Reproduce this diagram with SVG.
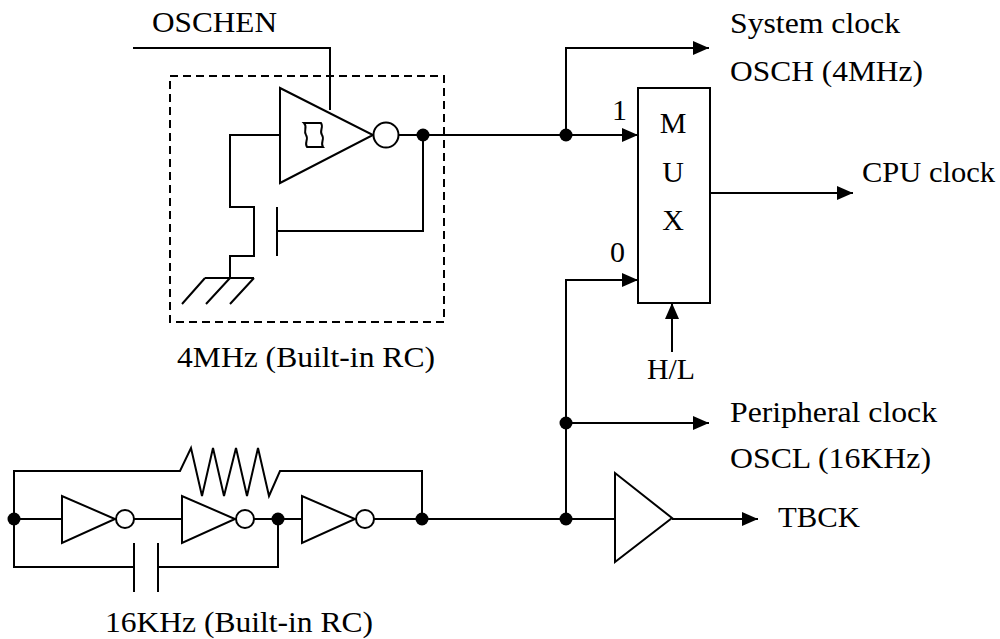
<svg xmlns="http://www.w3.org/2000/svg" width="1000" height="639" viewBox="0 0 1000 639">
<style>
.w{fill:none;stroke:#000;stroke-width:2}
.s{fill:#fff;stroke:#000;stroke-width:2}
.d{fill:#000;stroke:none}
.dash{fill:none;stroke:#000;stroke-width:2;stroke-dasharray:8,5}
</style>
<defs>
<marker id="arr" viewBox="0 0 16 14" refX="16" refY="7" markerWidth="16" markerHeight="14" markerUnits="userSpaceOnUse" orient="auto">
<path d="M0,0 L16,7 L0,14 Z" fill="#000"/>
</marker>
</defs>
<rect x="0" y="0" width="1000" height="639" fill="#fff"/>

<g id="connectors">
<path class="w" d="M133,48 H330 V110"/>
<path class="w" d="M398,135 H638" marker-end="url(#arr)"/>
<path class="w" d="M566,135 V48 H709" marker-end="url(#arr)"/>
<path class="w" d="M423,135 V231 H277"/>
<path class="w" d="M280,135 H230 V207 H254 V256 H230 V278"/>
<path class="w" d="M710,193 H853" marker-end="url(#arr)"/>
<path class="w" d="M672,352 V303" marker-end="url(#arr)"/>
<path class="w" d="M566,519 V280 H638" marker-end="url(#arr)"/>
<path class="w" d="M566,423 H709" marker-end="url(#arr)"/>
<path class="w" d="M14,519 H62 M134,519 H182 M254,519 H302 M374,519 H615"/>
<path class="w" d="M672,519 H758" marker-end="url(#arr)"/>
<path class="w" d="M14,519 V471 H180 L191,448 L202,496 L213,448 L224,496 L236,448 L247,496 L258,448 L269,496 L280,471 H422 V519"/>
<path class="w" d="M14,519 V567 H134 M158,567 H278 V519"/>
</g>

<g id="osc4m" font-family="Liberation Serif, Times New Roman, serif" font-size="30">
<rect class="dash" x="170" y="76" width="274" height="246"/>
<polygon class="s" points="280,88 280,183 373,135"/>
<path class="w" stroke-width="1.8" d="M304,123 H321 C324,127 319,131 322,135 C325,139 320,143 323,147 H307 C304,143 309,139 306,135 C303,131 308,127 304,123 Z"/>
<circle class="s" cx="386" cy="135" r="12.5"/>
<path class="w" d="M277,207 V256"/>
<path class="w" d="M205,278 H254 M205,278 L182,304 M230,278 L206,304 M254,278 L230,304"/>
<text x="177" y="367" textLength="258" lengthAdjust="spacingAndGlyphs">4MHz (Built-in RC)</text>
</g>

<g id="oschen-label" font-family="Liberation Serif, Times New Roman, serif" font-size="30">
<text x="152" y="32" textLength="125" lengthAdjust="spacingAndGlyphs">OSCHEN</text>
</g>

<g id="mux" font-family="Liberation Serif, Times New Roman, serif" font-size="30">
<rect class="s" x="638" y="88" width="72" height="215"/>
<text x="673" y="133" text-anchor="middle">M</text>
<text x="673" y="182" text-anchor="middle">U</text>
<text x="673" y="230" text-anchor="middle">X</text>
<text x="612" y="120">1</text>
<text x="610" y="262">0</text>
<text x="647" y="379" textLength="48" lengthAdjust="spacingAndGlyphs">H/L</text>
</g>

<g id="outputs" font-family="Liberation Serif, Times New Roman, serif" font-size="30">
<text x="730" y="33" textLength="170" lengthAdjust="spacingAndGlyphs">System clock</text>
<text x="730" y="81" textLength="193" lengthAdjust="spacingAndGlyphs">OSCH (4MHz)</text>
<text x="862" y="182" textLength="133" lengthAdjust="spacingAndGlyphs">CPU clock</text>
<text x="730" y="422" textLength="207" lengthAdjust="spacingAndGlyphs">Peripheral clock</text>
<text x="730" y="468" textLength="201" lengthAdjust="spacingAndGlyphs">OSCL (16KHz)</text>
<text x="778" y="527" textLength="82" lengthAdjust="spacingAndGlyphs">TBCK</text>
</g>

<g id="osc16k" font-family="Liberation Serif, Times New Roman, serif" font-size="30">
<polygon class="s" points="62,496 62,543 115,519"/>
<circle class="s" cx="125" cy="519" r="9"/>
<polygon class="s" points="182,496 182,543 235,519"/>
<circle class="s" cx="245" cy="519" r="9"/>
<polygon class="s" points="302,496 302,543 355,519"/>
<circle class="s" cx="365" cy="519" r="9"/>
<path class="w" d="M134,543 V592 M158,543 V592"/>
<text x="105" y="632" textLength="268" lengthAdjust="spacingAndGlyphs">16KHz (Built-in RC)</text>
</g>

<g id="buffer">
<polygon class="s" points="615,473 615,562 672,518"/>
</g>

<g id="junctions">
<circle class="d" cx="423" cy="135" r="6.5"/>
<circle class="d" cx="566" cy="135" r="6.5"/>
<circle class="d" cx="566" cy="423" r="6.5"/>
<circle class="d" cx="566" cy="519" r="6.5"/>
<circle class="d" cx="14" cy="519" r="6.5"/>
<circle class="d" cx="278" cy="519" r="6.5"/>
<circle class="d" cx="422" cy="519" r="6.5"/>
</g>
</svg>
